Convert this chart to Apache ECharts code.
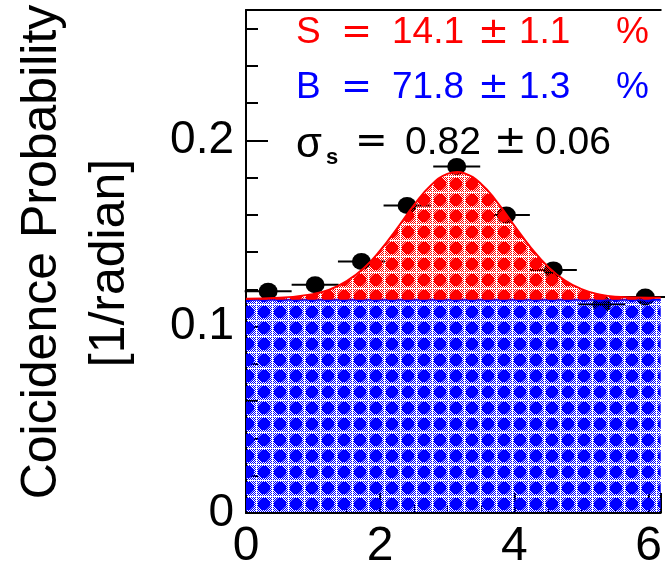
<!DOCTYPE html>
<html>
<head>
    <meta charset="utf-8">
    <style type="text/css">
        *, html, body {
            margin: 0;
            padding: 0;
        }
        html, body, #container {
            width: 665px;
            height: 571px;
            background: #fff;
        }
    </style>
    <script type="text/javascript" src="https://cdn.jsdelivr.net/npm/echarts@6.0.0/dist/echarts.min.js"></script>
</head>
<body>
<div id="container"></div>
<script type="text/javascript">
    // measured bins (radian) and coincidence probability
    var binX = [0.33, 1.03, 1.72, 2.40, 3.14, 3.88, 4.58, 5.30, 5.95];
    var binY = [0.119, 0.1225, 0.135, 0.165, 0.186, 0.160, 0.1305, 0.112, 0.116];
    var binHalfWidth = [0.35, 0.35, 0.35, 0.35, 0.35, 0.35, 0.35, 0.35, 0.35];

    // fitted curve (signal gaussian on top of flat background)
    var fitX = [0, 0.5, 1.0, 1.25, 1.5, 1.75, 2.0, 2.25, 2.5, 2.75, 3.0, 3.15, 3.25, 3.5, 3.75, 4.0, 4.25, 4.5, 4.75, 5.0, 5.25, 5.5, 6.0, 6.18];
    var fitY = [0.1150, 0.1155, 0.1175, 0.1200, 0.1245, 0.1312, 0.1409, 0.1527, 0.1651, 0.1757, 0.1820, 0.1830, 0.1824, 0.1768, 0.1665, 0.1542, 0.1422, 0.1322, 0.1249, 0.1202, 0.1175, 0.1161, 0.1155, 0.1155];

    var bgX = [0, 6.18];
    var bgY = [0.1145, 0.1145];

    var xTicks = [0, 2, 4, 6];
    var yTicks = [0, 0.1, 0.2];

    var myChart = echarts.init(document.getElementById('container'), null, {renderer: 'canvas'});

    // hatch-like fill: solid blobs on a checker lattice
    function makeTile(color) {
        var c = document.createElement('canvas');
        c.width = 16;
        c.height = 16;
        var g = c.getContext('2d');
        g.fillStyle = color;
        for (var y = 0; y < 16; y++) {
            for (var x = 0; x < 16; x++) {
                if ((x + y) % 2 === 0 && x !== 0 && y !== 0) g.fillRect(x, y, 1, 1);
            }
        }
        g.beginPath();
        g.moveTo(6, 2); g.lineTo(10, 2); g.lineTo(14, 6); g.lineTo(14, 10);
        g.lineTo(10, 14); g.lineTo(6, 14); g.lineTo(2, 10); g.lineTo(2, 6);
        g.closePath();
        g.fill();
        return c;
    }

    function pieces(list, y, color, size) {
        return list.map(function (p) {
            var sym = (p[0] === '=' || p[0] === '±');
            return {
                type: 'text',
                x: p[1],
                y: p[2] !== undefined ? p[2] : y,
                z: 100,
                style: {
                    text: p[0],
                    fill: color,
                    font: (p[4] || '') + ' ' + (p[3] || size) + 'px ' + (sym ? '"DejaVu Sans"' : '"Liberation Sans"'),
                    textAlign: 'left',
                    textVerticalAlign: 'middle'
                }
            };
        });
    }

    var labelFont = '"Liberation Sans", Arial, sans-serif';
    var fitData = fitX.map(function (x, i) { return [x, fitY[i]]; });
    var bgData = bgX.map(function (x, i) { return [x, bgY[i]]; });
    var pointData = binX.map(function (x, i) { return [x, binY[i], binHalfWidth[i]]; });

    var graphics = []
        .concat(pieces([['S', 296], ['=', 341], ['14.1', 392], ['±', 478], ['1.1', 519], ['%', 616]], 33, '#ff0000', 37))
        .concat(pieces([['B', 296], ['=', 341], ['71.8', 392], ['±', 478], ['1.3', 519], ['%', 616]], 88, '#0000ff', 37))
        .concat(pieces([['σ', 296, 145, 42], ['s', 326, 158, 22, 'bold'], ['=', 355], ['0.82', 405], ['±', 494], ['0.06', 535]], 143, '#000000', 39));

    graphics.push({
        type: 'text', x: 42, y: 252, rotation: Math.PI / 2,
        style: {text: 'Coicidence Probability', fill: '#000', font: '50px ' + labelFont, textAlign: 'center', textVerticalAlign: 'middle'}
    });
    graphics.push({
        type: 'text', x: 110, y: 263, rotation: Math.PI / 2,
        style: {text: '[1/radian]', fill: '#000', font: '50px ' + labelFont, textAlign: 'center', textVerticalAlign: 'middle'}
    });

    var option = {
        animation: false,
        backgroundColor: '#fff',
        grid: {left: 246, right: 0, top: 10, bottom: 48},
        xAxis: [{
            type: 'value',
            min: 0,
            max: 6.18,
            interval: 2,
            splitLine: {show: false},
            axisLine: {lineStyle: {color: '#000', width: 2}},
            axisTick: {inside: true, length: 20, lineStyle: {color: '#000', width: 2}},
            minorTick: {show: true, splitNumber: 4, length: 8, lineStyle: {color: '#000', width: 1}},
            axisLabel: {
                color: '#000', fontSize: 48, fontFamily: labelFont, margin: 10,
                formatter: function (v) { return xTicks.indexOf(v) >= 0 ? String(v) : ''; }
            }
        }, {
            type: 'value',
            position: 'top',
            min: 0,
            max: 6.18,
            splitLine: {show: false},
            axisLine: {show: true, lineStyle: {color: '#000', width: 2}},
            axisTick: {show: false},
            axisLabel: {show: false}
        }],
        yAxis: {
            type: 'value',
            min: 0,
            max: 0.27,
            interval: 0.1,
            splitLine: {show: false},
            axisLine: {lineStyle: {color: '#000', width: 2}},
            axisTick: {inside: true, length: 22, lineStyle: {color: '#000', width: 2}},
            minorTick: {show: true, splitNumber: 5, length: 12, lineStyle: {color: '#000', width: 2}},
            axisLabel: {
                color: '#000', fontSize: 46, fontFamily: labelFont, margin: 12,
                formatter: function (v) {
                    for (var i = 0; i < yTicks.length; i++) {
                        if (Math.abs(v - yTicks[i]) < 1e-6) return String(yTicks[i]);
                    }
                    return '';
                }
            }
        },
        graphic: graphics,
        series: [{
            name: 'errbar',
            type: 'custom',
            z: 1,
            data: pointData,
            renderItem: function (params, api) {
                var a = api.coord([api.value(0) - api.value(2), api.value(1)]);
                var b = api.coord([api.value(0) + api.value(2), api.value(1)]);
                return {
                    type: 'line',
                    shape: {x1: a[0], y1: a[1], x2: b[0], y2: b[1]},
                    style: {stroke: '#000', lineWidth: 2}
                };
            }
        }, {
            name: 'points',
            type: 'scatter',
            z: 1,
            symbol: 'circle',
            symbolSize: [19, 17],
            itemStyle: {color: '#000', opacity: 1},
            data: pointData
        }, {
            name: 'B',
            type: 'line',
            z: 2,
            symbol: 'none',
            data: bgData,
            lineStyle: {color: '#0000ff', width: 2},
            areaStyle: {color: {image: makeTile('#0000ff'), repeat: 'repeat'}, opacity: 1}
        }, {
            name: 'S',
            type: 'line',
            z: 3,
            symbol: 'none',
            smooth: true,
            data: fitData,
            lineStyle: {color: '#ff0000', width: 2},
            areaStyle: {color: {image: makeTile('#ff0000'), repeat: 'repeat'}, opacity: 1, origin: bgY[0]}
        }]
    };

    myChart.setOption(option);
</script>
</body>
</html>
